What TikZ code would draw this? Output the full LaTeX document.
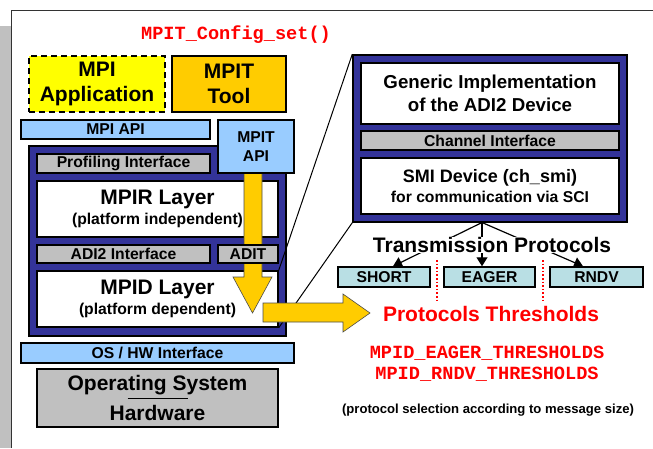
\documentclass[tikz,border=0pt]{standalone}
\usepackage{fontspec}
\setmainfont{Liberation Sans}
\setmonofont{Liberation Mono}
\usepackage{xcolor}
\usetikzlibrary{calc, positioning, arrows.meta}
\definecolor{mpiblue}{HTML}{333399}
\definecolor{apiblue}{HTML}{99CCFF}
\definecolor{ifgrey}{HTML}{C0C0C0}
\definecolor{appyellow}{HTML}{FFFF00}
\definecolor{toolorange}{HTML}{FFCC00}
\definecolor{protocyan}{HTML}{B9DFE4}
\colorlet{framegrey}{black!80!white}

\newcommand{\bigfont}{\fontsize{21}{25}\selectfont\bfseries}
\newcommand{\devfont}{\fontsize{18.7}{22.5}\selectfont\bfseries}
\newcommand{\midfont}{\fontsize{15.7}{18.5}\selectfont\bfseries}
\newcommand{\codefont}{\fontsize{18.6}{21}\selectfont\ttfamily\bfseries}

\begin{document}
\begin{tikzpicture}[x = 1pt, y = -1pt,
        box/.style = {draw, line width = 1.5pt, inner sep = 0pt, align = center},
        bar/.style = {box, fill = ifgrey, font = \midfont},
        apibar/.style = {box, fill = apiblue, font = \midfont},
        layer/.style = {box, fill = white, font = \midfont},
        proto/.style = {box, fill = protocyan, font = \midfont, minimum height = 20pt},
        fat/.style = {fill = toolorange, draw = black!70, line width = 0.6pt},
        fan/.style = {line width = 1.2pt, -{Triangle[length = 9pt, width = 11pt]}}]%{{{
    \useasboundingbox (0, 0) rectangle (653, 448);

    % frame with its shadow
    \fill [ifgrey] (0, 26) rectangle (10.5, 448);
    \draw [framegrey, line width = 1.5pt] (11.5, 448) -- (11.5, 10.5) -- (653, 10.5);

    \node (Config) [font = \codefont, text = red] at (236, 35) {MPIT\_Config\_set()};

    \node (App) [box, dash pattern = on 6pt off 4pt, fill = appyellow, font = \bigfont, minimum width = 136pt, minimum height = 56pt] at (97, 84) {MPI\\Application};
    \node (Tool) [box, fill = toolorange, font = \bigfont, minimum width = 114pt, minimum height = 56pt] at (229, 84) {MPIT\\Tool};
    \node (MPIAPI) [apibar, minimum width = 189pt, minimum height = 19pt] at (115.5, 129.5) {MPI API};

    % MPI library layers
    \node (Lib) [box, fill = mpiblue, minimum width = 257pt, minimum height = 190pt] at (157.5, 241) {};
    \node (Prof) [bar, minimum width = 173pt, minimum height = 19pt] at (123.5, 163.5) {Profiling Interface};
    \node (MPIR) [layer, minimum width = 241pt, minimum height = 56pt] at (157.5, 209) {{\bigfont MPIR Layer}\\[1pt](platform independent)};
    \node (MPID) [layer, minimum width = 241pt, minimum height = 56pt] at (157.5, 299) {{\bigfont MPID Layer}\\[1.5pt](platform dependent)};

    % device in detail
    \node (Dev) [box, fill = mpiblue, minimum width = 274pt, minimum height = 167pt] at (490, 138.5) {};
    \node (Generic) [layer, font = \devfont, minimum width = 258pt, minimum height = 61pt] at (490, 93.5) {Generic Implementation\\of the ADI2 Device};
    \node (Channel) [bar, minimum width = 258pt, minimum height = 19pt] at (490, 140.5) {Channel Interface};
    \node (SMI) [layer, minimum width = 258pt, minimum height = 56pt] at (490, 186) {{\fontsize{18}{20}\selectfont SMI Device (ch\_smi)}\\[1pt]for communication via SCI};

    \draw [line width = 1pt] (Dev.north west) -- (MPID.north east);
    \draw [line width = 1pt] (Dev.south west) -- (MPID.south east);

    % MPIT path down through the layers
    \draw [fat] (244, 173) -- (262, 173) -- (262, 277) -- (272, 277) -- (252.5, 313) -- (233, 277) -- (244, 277) -- cycle;

    \node (ADI) [bar, minimum width = 173pt, minimum height = 18pt] at (123.5, 254) {ADI2 Interface};
    \node (ADIT) [bar, minimum width = 60pt, minimum height = 18pt] at (248, 254) {ADIT};
    \node (MPITAPI) [apibar, minimum width = 76pt, minimum height = 53pt, font = \fontsize{15.7}{19}\selectfont\bfseries] at (256, 146.5) {MPIT\\API};

    \draw [fat] (263, 303) -- (343, 303) -- (343, 294) -- (370, 313) -- (343, 332) -- (343, 322) -- (263, 322) -- cycle;

    \node (OSHW) [apibar, minimum width = 273pt, minimum height = 20pt] at (157.5, 353) {OS / HW Interface};
    \node (OS) [box, fill = ifgrey, font = \fontsize{21}{30}\selectfont\bfseries, minimum width = 241pt, minimum height = 58pt] at (157.5, 398) {Operating System\\Hardware};
    \draw [line width = 1pt] ($(OS.center) + (-30, 0)$) -- ($(OS.center) + (30, 0)$);

    % transmission protocols
    \node (Short) [proto, minimum width = 92pt] at (384, 277) {SHORT};
    \node (Eager) [proto, minimum width = 91pt] at (489.5, 277) {EAGER};
    \node (Rndv) [proto, minimum width = 93pt] at (596.5, 277) {RNDV};

    \coordinate (Fan) at (482, 222.5);
    \draw [fan] (Fan) -- ($(Short.north) + (9, 0)$);
    \draw [fan] (Fan) -- ($(Eager.north) + (-7.5, 0)$);
    \draw [fan] (Fan) -- ($(Rndv.north) + (-13.5, 0)$);
    \node (Trans) [font = \bigfont, fill = white, inner sep = 0pt] at (492, 245) {Transmission Protocols};

    \draw [red, dotted, line width = 1.6pt] (437, 260) -- (437, 300);
    \draw [red, dotted, line width = 1.6pt] (543, 260) -- (543, 300);

    \node (Thresh) [font = \bigfont, text = red] at (491, 314) {Protocols Thresholds};
    \node (EagerVar) [font = \codefont, text = red] at (487, 353) {MPID\_EAGER\_THRESHOLDS};
    \node (RndvVar) [font = \codefont, text = red] at (487, 374) {MPID\_RNDV\_THRESHOLDS};
    \node (Select) [font = \fontsize{13.1}{15}\selectfont\bfseries] at (488, 410) {(protocol selection according to message size)};
\end{tikzpicture}%}}}
\end{document}
